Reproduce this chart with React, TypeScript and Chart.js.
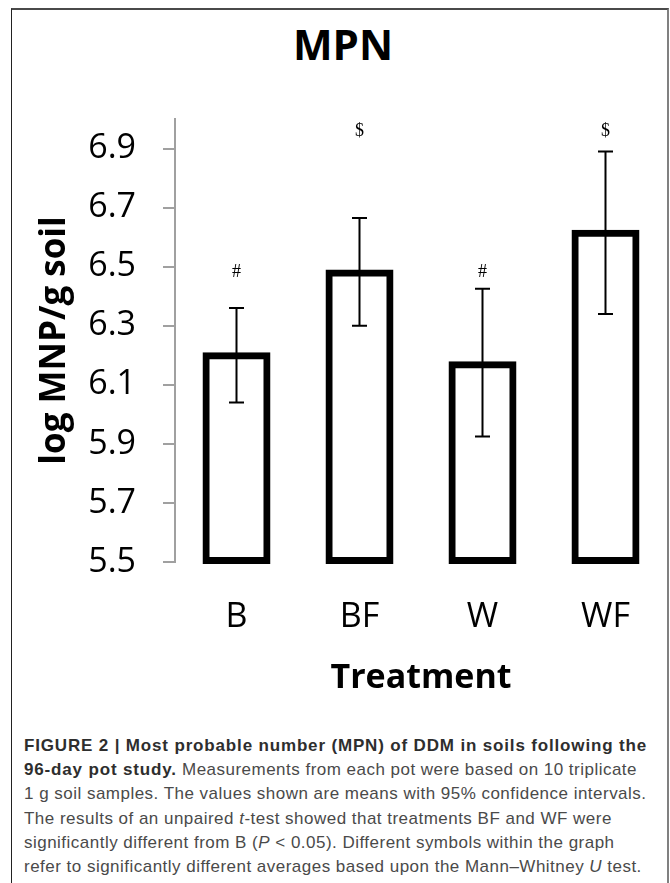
import React, { useEffect, useRef } from 'react';
import { Chart, registerables } from 'chart.js';

Chart.register(...registerables);

// ---- data ----
const categories = ['B', 'BF', 'W', 'WF'];
const meanValues = [6.2, 6.48, 6.17, 6.615];
const ciLower = [6.04, 6.3, 5.925, 6.34];
const ciUpper = [6.36, 6.665, 6.425, 6.89];
const sigSymbols = ['#', '$', '#', '$'];
const sigLevels = [6.48, 6.96, 6.48, 6.96];
const yTickValues = [5.5, 5.7, 5.9, 6.1, 6.3, 6.5, 6.7, 6.9];
const yMin = 5.5;
const yMax = 7.0;
const chartTitle = 'MPN';
const xTitle = 'Treatment';
const yTitle = 'log MNP/g soil';

const errorBarPlugin = {
  id: 'errorBarsAndSymbols',
  afterDatasetsDraw(chart: any) {
    const meta = chart.getDatasetMeta(0);
    const yScale = chart.scales.y;
    const ctx = chart.ctx;
    ctx.save();
    ctx.strokeStyle = '#000';
    ctx.lineWidth = 2;
    ctx.fillStyle = '#000';
    ctx.font = '18px "Liberation Serif", "DejaVu Serif", serif';
    ctx.textAlign = 'center';
    ctx.textBaseline = 'middle';
    const cap = 7.5;
    meta.data.forEach((bar: any, i: number) => {
      const x = bar.x;
      const yl = yScale.getPixelForValue(ciLower[i]);
      const yh = yScale.getPixelForValue(ciUpper[i]);
      ctx.beginPath();
      ctx.moveTo(x, yl);
      ctx.lineTo(x, yh);
      ctx.moveTo(x - cap, yl);
      ctx.lineTo(x + cap, yl);
      ctx.moveTo(x - cap, yh);
      ctx.lineTo(x + cap, yh);
      ctx.stroke();
      ctx.fillText(sigSymbols[i], x, yScale.getPixelForValue(sigLevels[i]));
    });
    ctx.restore();
  },
};

export default function App() {
  const ref = useRef<HTMLCanvasElement>(null);

  useEffect(() => {
    if (!ref.current) return;
    Chart.defaults.font.family = '"Open Sans", sans-serif';
    const chart = new Chart(ref.current, {
      type: 'bar',
      data: {
        labels: categories,
        datasets: [
          {
            data: meanValues,
            base: yMin,
            clip: false,
            backgroundColor: 'rgba(255,255,255,0)',
            borderColor: '#000',
            borderWidth: 1,
            inflateAmount: 3,
            borderSkipped: false,
            barPercentage: 0.504,
            categoryPercentage: 1,
          } as any,
        ],
      },
      options: {
        animation: false,
        responsive: true,
        maintainAspectRatio: false,
        events: [],
        layout: { padding: { left: 0, right: 3, top: 119, bottom: 8 } },
        plugins: {
          legend: { display: false },
          tooltip: { enabled: false },
          title: { display: false },
        },
        scales: {
          x: {
            grid: { display: false, drawTicks: false },
            border: { display: false },
            ticks: { color: '#000', font: { size: 34 }, padding: 35 },
            title: {
              display: true,
              text: xTitle,
              color: '#000',
              font: { size: 34, weight: 'bold' },
              padding: { top: 0, bottom: 13 },
            },
            afterFit: (s: any) => {
              s.height = 150;
            },
          },
          y: {
            min: yMin,
            max: yMax,
            afterBuildTicks: (s: any) => {
              s.ticks = yTickValues.map((v) => ({ value: v }));
            },
            grid: {
              drawOnChartArea: false,
              drawTicks: true,
              tickLength: 12,
              color: '#a0a0a0',
              lineWidth: 2,
            },
            border: { display: true, color: '#a0a0a0', width: 2 },
            ticks: {
              color: '#000',
              font: { size: 34 },
              padding: 27,
              autoSkip: false,
              callback: (v: any) => Number(v).toFixed(1),
            },
            title: {
              display: true,
              text: yTitle,
              color: '#000',
              font: { size: 35, weight: 'bold' },
              padding: { top: 34, bottom: 0 },
            },
            afterFit: (s: any) => {
              s.width = 175;
            },
          },
        },
      } as any,
      plugins: [errorBarPlugin],
    });
    return () => chart.destroy();
  }, []);

  const bold: React.CSSProperties = { fontWeight: 'bold', color: '#2e2e2e', letterSpacing: '0.84px' };

  return (
    <div
      style={{
        position: 'absolute',
        left: 0,
        top: 0,
        width: 670,
        height: 883,
        overflow: 'hidden',
        background: '#fff',
      }}
    >
      <div
        style={{
          position: 'absolute',
          left: 11,
          top: 8,
          width: 658,
          height: 900,
          boxSizing: 'border-box',
          borderLeft: '1.5px solid #222',
          borderTop: '2px solid #4a4a4a',
          borderRight: '2px solid #808080',
        }}
      />
      <div
        style={{
          position: 'absolute',
          left: 0,
          top: 23,
          width: 686,
          textAlign: 'center',
          fontFamily: '"Open Sans", sans-serif',
          fontWeight: 'bold',
          fontSize: 42,
          lineHeight: '42px',
          color: '#000',
        }}
      >
        {chartTitle}
      </div>
      <div style={{ position: 'absolute', left: 0, top: 0, width: 670, height: 720 }}>
        <canvas ref={ref} />
      </div>
      <div
        style={{
          position: 'absolute',
          left: 24,
          top: 734,
          fontFamily: '"Liberation Sans", Arial, sans-serif',
          fontSize: 17,
          lineHeight: '24.2px',
          color: '#4a4a4a',
          whiteSpace: 'nowrap',
          letterSpacing: '0.48px',
        }}
      >
        <div>
          <span style={bold}>FIGURE 2 | Most probable number (MPN) of DDM in soils following the</span>
        </div>
        <div>
          <span style={bold}>96-day pot study.</span> Measurements from each pot were based on 10 triplicate
        </div>
        <div>1 g soil samples. The values shown are means with 95% confidence intervals.</div>
        <div>
          The results of an unpaired <i>t</i>-test showed that treatments BF and WF were
        </div>
        <div>
          significantly different from B (<i>P</i> &lt; 0.05). Different symbols within the graph
        </div>
        <div>
          refer to significantly different averages based upon the Mann–Whitney <i>U</i> test.
        </div>
      </div>
    </div>
  );
}
